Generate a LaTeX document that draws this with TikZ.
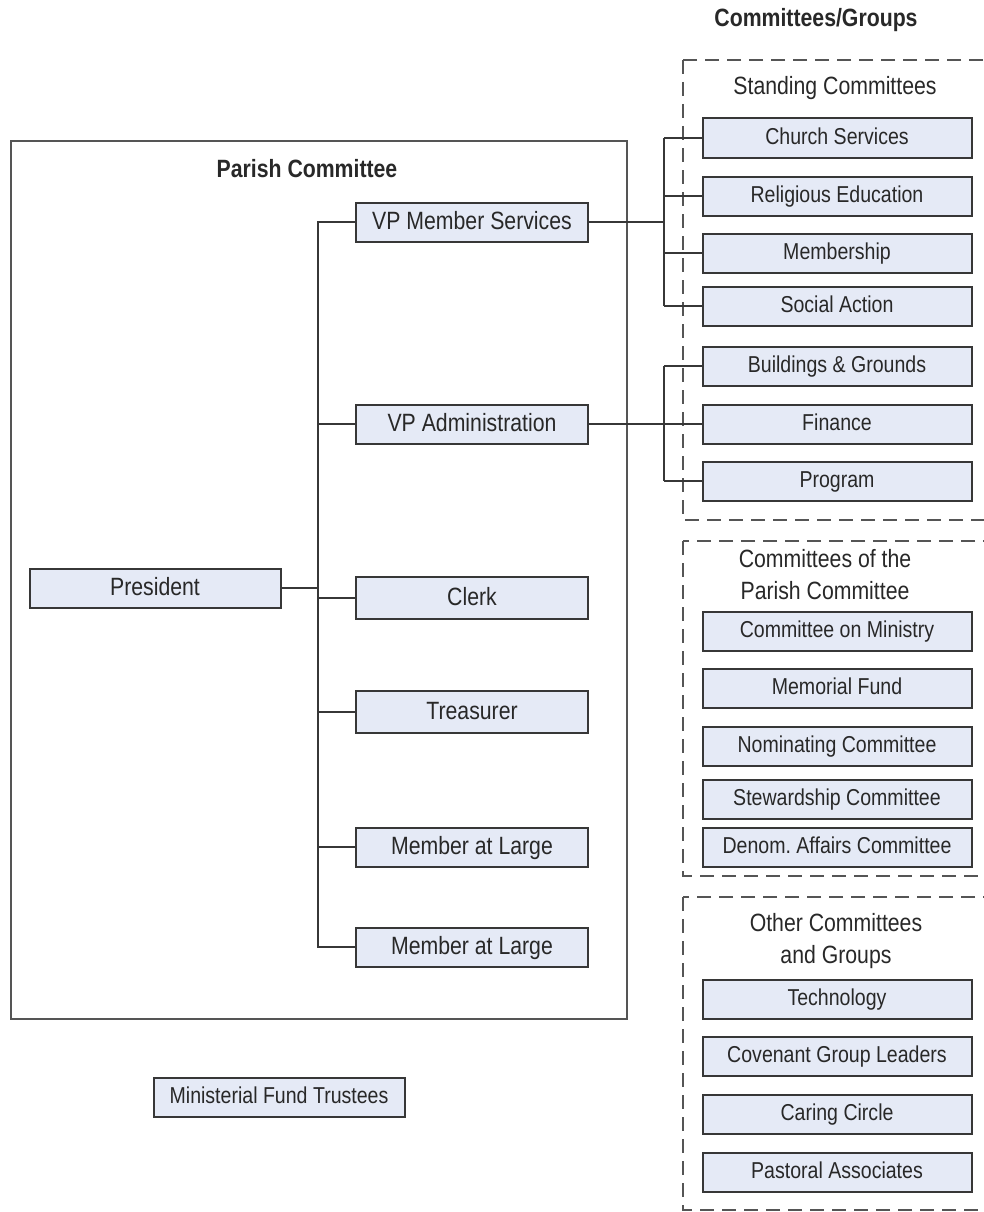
\documentclass[tikz,border=0pt]{standalone}
\usepackage{fontspec}
\setmainfont{Liberation Sans}[FakeStretch=0.85]
\usetikzlibrary{positioning}
\definecolor{boxfill}{RGB}{229,234,246}
\definecolor{linegray}{RGB}{55,55,55}
\definecolor{textgray}{RGB}{40,40,40}
\tikzset{
  post/.style={draw=linegray, line width=2pt, fill=boxfill, inner sep=0pt,
    minimum height=39pt, text=textgray, text depth=5pt},
  office/.style={post, minimum width=232pt, text height=19pt,
    font=\fontsize{25}{28}\selectfont},
  cttee/.style={post, minimum width=269pt, text height=18pt,
    font=\fontsize{23}{26}\selectfont},
  heading/.style={text=textgray, align=center, font=\fontsize{25}{32}\selectfont},
  wire/.style={draw=linegray, line width=2pt},
  frame/.style={draw=linegray!85, line width=2pt},
  dframe/.style={draw=linegray!85, line width=2pt, dash pattern=on 14pt off 8pt}
}

\begin{document}
\begin{tikzpicture}[x=1pt, y=-1pt]
    \useasboundingbox (0,0) rectangle (984,1212);

    % parish committee
    \draw[frame] (11,141) rectangle (627,1019);
    \node[heading, font=\bfseries\fontsize{25}{28}\selectfont]
      (ParishTitle) at (307,169) {Parish Committee};
    \node[office, minimum width=251pt]
      (President) at (155,588) {President};
    \node[office] (VPMember) at (472,222) {VP Member Services};
    \node[office] (VPAdmin) at (472,424) {VP Administration};
    \node[office, minimum height=42pt] (Clerk) at (472,598) {Clerk};
    \node[office, minimum height=42pt] (Treasurer) at (472,712) {Treasurer};
    \node[office] (MemberA) at (472,847) {Member at Large};
    \node[office] (MemberB) at (472,947) {Member at Large};
    \node[cttee, minimum width=251pt]
      (Trustees) at (279,1097) {Ministerial Fund Trustees};

    % committees / groups
    \node[heading, font=\bfseries\fontsize{25}{28}\selectfont]
      (GroupsTitle) at (816,20) {Committees/Groups};
    \draw[dframe] (683,60) rectangle (1000,520);
    \draw[dframe] (683,541) rectangle (1000,876);
    \draw[dframe] (683,897) rectangle (1000,1210);

    \node[heading] (StandingTitle) at (835,88) {Standing Committees};
    \node[cttee] (ChurchServices) at (837,138) {Church Services};
    \node[cttee] (ReligiousEd) at (837,196) {Religious Education};
    \node[cttee] (Membership) at (837,253) {Membership};
    \node[cttee] (SocialAction) at (837,306) {Social Action};
    \node[cttee] (Buildings) at (837,366) {Buildings \& Grounds};
    \node[cttee] (Finance) at (837,424) {Finance};
    \node[cttee] (Program) at (837,481) {Program};

    \node[heading] (ParishCtteeTitle) at (825,575) {Committees of the\\Parish Committee};
    \node[cttee] (Ministry) at (837,631) {Committee on Ministry};
    \node[cttee] (Memorial) at (837,688) {Memorial Fund};
    \node[cttee] (Nominating) at (837,746) {Nominating Committee};
    \node[cttee] (Stewardship) at (837,799) {Stewardship Committee};
    \node[cttee] (Denom) at (837,847) {Denom.\ Affairs Committee};

    \node[heading] (OtherTitle) at (836,941) {Other Committees\\and Groups};
    \node[cttee] (Technology) at (837,999) {Technology};
    \node[cttee] (Covenant) at (837,1056) {Covenant Group Leaders};
    \node[cttee] (Caring) at (837,1114) {Caring Circle};
    \node[cttee] (Pastoral) at (837,1172) {Pastoral Associates};

    % connectors
    \coordinate (Trunk) at (318,0);
    \coordinate (MemberBus) at (664,0);
    \coordinate (AdminBus) at (664,0);

    \draw[wire] (VPMember.west) -- (VPMember.west -| Trunk)
      -- (MemberB.west -| Trunk) -- (MemberB.west);
    \draw[wire] (President.east) -- (President.east -| Trunk);
    \foreach \n in {VPAdmin,Clerk,Treasurer,MemberA}
      \draw[wire] (\n.west) -- (\n.west -| Trunk);

    \draw[wire] (VPMember.east) -- (VPMember.east -| MemberBus);
    \draw[wire] (ChurchServices.west -| MemberBus) -- (SocialAction.west -| MemberBus);
    \foreach \n in {ChurchServices,ReligiousEd,Membership,SocialAction}
      \draw[wire] (\n.west) -- (\n.west -| MemberBus);

    \draw[wire] (VPAdmin.east) -- (Finance.west);
    \draw[wire] (Buildings.west -| AdminBus) -- (Program.west -| AdminBus);
    \foreach \n in {Buildings,Program}
      \draw[wire] (\n.west) -- (\n.west -| AdminBus);

  \end{tikzpicture}
\end{document}
